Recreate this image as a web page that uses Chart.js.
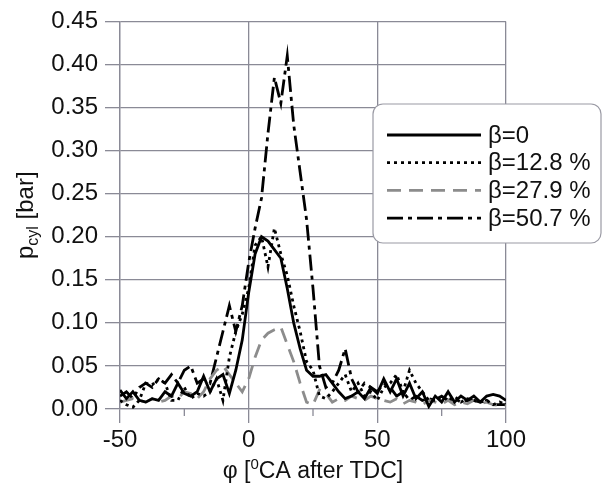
<!DOCTYPE html>
<html>
<head>
<meta charset="UTF-8">
<title>p_cyl vs crank angle</title>
<script src="https://cdn.jsdelivr.net/npm/chart.js@4"></script>
<style>
  body { margin: 0; background: #fff; }
</style>
</head>
<body>
<canvas id="chart" width="606" height="491"></canvas>
<script>
// crank angle [deg CA after TDC]
const phi = [
  -50, -47.5, -45, -42.5, -40, -37.5, -35, -32.5, -30, -27.5,
  -25, -22.5, -20, -17.5, -15, -12.5, -10, -7.5, -5, -2.5,
  0, 2.5, 5, 7.5, 10, 12.5, 15, 17.5, 20, 22.5,
  25, 27.5, 30, 32.5, 35, 37.5, 40, 42.5, 45, 47.5,
  50, 52.5, 55, 57.5, 60, 62.5, 65, 67.5, 70, 72.5,
  75, 77.5, 80, 82.5, 85, 87.5, 90, 92.5, 95, 97.5, 100
];

// p_cyl [bar] for each beta
const pBeta0 = [
  0.022, 0.012, 0.020, 0.010, 0.008, 0.012, 0.010, 0.020, 0.015, 0.030,
  0.018, 0.015, 0.020, 0.038, 0.020, 0.035, 0.040, 0.018, 0.045, 0.080,
  0.135, 0.180, 0.200, 0.195, 0.185, 0.175, 0.140, 0.100, 0.070, 0.045,
  0.038, 0.038, 0.040, 0.030, 0.020, 0.012, 0.015, 0.020, 0.012, 0.025,
  0.018, 0.035, 0.020, 0.035, 0.015, 0.030, 0.012, 0.020, 0.003, 0.015,
  0.008, 0.020, 0.008, 0.015, 0.010, 0.015, 0.008, 0.015, 0.017, 0.015, 0.010
];
const pBeta128 = [
  0.010, 0.005, 0.002, 0.010, 0.030, 0.028, 0.035, 0.030, 0.010, 0.010,
  0.025, 0.012, 0.018, 0.015, 0.020, 0.035, 0.010, 0.060, 0.090, 0.110,
  0.140, 0.190, 0.200, 0.165, 0.210, 0.180, 0.155, 0.120, 0.090, 0.055,
  0.045, 0.015, 0.012, 0.020, 0.030, 0.040, 0.020, 0.030, 0.015, 0.020,
  0.010, 0.025, 0.030, 0.040, 0.020, 0.045, 0.030, 0.020, 0.010, 0.010,
  0.015, 0.010, 0.015, 0.008, 0.012, 0.010, 0.008, 0.010, 0.005, 0.008, 0.005
];
const pBeta279 = [
  0.008, 0.010, 0.012, 0.010, 0.008, 0.012, 0.008, 0.010, 0.015, 0.012,
  0.020, 0.018, 0.012, 0.020, 0.035, 0.045, 0.050, 0.040, 0.030, 0.020,
  0.035, 0.060, 0.080, 0.088, 0.092, 0.095, 0.075, 0.055, 0.030, 0.008,
  0.005, 0.022, 0.018, 0.008, 0.012, 0.010, 0.015, 0.012, 0.010, 0.015,
  0.012, 0.010, 0.008, 0.012, 0.006, 0.010, 0.008, 0.005, 0.010, 0.008,
  0.006, 0.010, 0.005, 0.008, 0.006, 0.010, 0.006, 0.008, 0.005, 0.004, 0.004
];
const pBeta507 = [
  0.015, 0.020, 0.012, 0.025, 0.030, 0.025, 0.035, 0.030, 0.040, 0.030,
  0.045, 0.050, 0.030, 0.035, 0.030, 0.060, 0.090, 0.120, 0.090, 0.120,
  0.170, 0.210, 0.245, 0.320, 0.385, 0.355, 0.410, 0.330, 0.275, 0.220,
  0.140, 0.050, 0.025, 0.030, 0.045, 0.070, 0.035, 0.020, 0.030, 0.025,
  0.020, 0.030, 0.025, 0.015, 0.020, 0.010, 0.015, 0.010, 0.012, 0.010,
  0.015, 0.010, 0.012, 0.008, 0.010, 0.010, 0.008, 0.010, 0.005, 0.005, 0.005
];

const seriesLabels = ['β=0', 'β=12.8 %', 'β=27.9 %', 'β=50.7 %'];
const xMinorTicks = [-25, 25, 75];

const gridColor = '#8a8a96';
const fontFamily = '"Liberation Sans", Arial, sans-serif';

function toPoints(values) {
  return phi.map((x, i) => ({ x: x, y: values[i] }));
}

// draws text pieces of different sizes side by side, centred on cx
function drawPieces(ctx, pieces, cx, y) {
  let total = 0;
  pieces.forEach(p => { ctx.font = p[1] + 'px ' + fontFamily; total += ctx.measureText(p[0]).width; });
  let x = cx - total / 2;
  pieces.forEach(p => {
    ctx.font = p[1] + 'px ' + fontFamily;
    ctx.fillText(p[0], x, y + p[2]);
    x += ctx.measureText(p[0]).width;
  });
}

// legend box, axis titles and minor ticks drawn by hand
const extras = {
  id: 'extras',
  afterDraw(chart) {
    const ctx = chart.ctx;
    const xs = chart.scales.x;
    const area = chart.chartArea;
    ctx.save();

    // minor ticks on the x axis
    ctx.strokeStyle = gridColor;
    ctx.lineWidth = 1.3;
    xMinorTicks.forEach(v => {
      const px = xs.getPixelForValue(v);
      ctx.beginPath();
      ctx.moveTo(px, area.bottom);
      ctx.lineTo(px, area.bottom + 7);
      ctx.stroke();
    });

    // legend
    ctx.beginPath();
    ctx.roundRect(373, 104, 228, 139, 10);
    ctx.fillStyle = '#fff';
    ctx.fill();
    ctx.strokeStyle = '#9a9aa4';
    ctx.lineWidth = 1.2;
    ctx.stroke();
    chart.data.datasets.forEach((ds, i) => {
      const y = 135 + i * 27.7;
      ctx.beginPath();
      ctx.setLineDash(ds.borderDash || []);
      ctx.strokeStyle = ds.borderColor;
      ctx.lineWidth = ds.borderWidth;
      ctx.moveTo(387, y);
      ctx.lineTo(481, y);
      ctx.stroke();
      ctx.setLineDash([]);
      ctx.fillStyle = '#111';
      ctx.font = '24px ' + fontFamily;
      ctx.textBaseline = 'middle';
      ctx.textAlign = 'left';
      ctx.fillText(ds.label, 488, y + 1);
    });

    // x title
    ctx.fillStyle = '#111';
    ctx.textBaseline = 'alphabetic';
    drawPieces(ctx, [['φ [', 23, 0], ['0', 15, -9], ['CA after TDC]', 23, 0]],
      (area.left + area.right) / 2, 478);

    // y title, rotated
    ctx.translate(33, (area.top + area.bottom) / 2);
    ctx.rotate(-Math.PI / 2);
    drawPieces(ctx, [['p', 24, 0], ['cyl', 16, 5], [' [bar]', 24, 0]], 0, 0);
    ctx.restore();
  }
};

new Chart(document.getElementById('chart'), {
  type: 'line',
  data: {
    datasets: [
      { label: seriesLabels[0], data: toPoints(pBeta0), borderColor: '#000', borderWidth: 2.8, borderDash: [] },
      { label: seriesLabels[1], data: toPoints(pBeta128), borderColor: '#000', borderWidth: 2.8, borderDash: [3, 4] },
      { label: seriesLabels[2], data: toPoints(pBeta279), borderColor: '#8c8c8c', borderWidth: 2.8, borderDash: [14, 8] },
      { label: seriesLabels[3], data: toPoints(pBeta507), borderColor: '#000', borderWidth: 2.8, borderDash: [16, 5, 4, 5] }
    ]
  },
  options: {
    responsive: false,
    animation: false,
    devicePixelRatio: 1,
    layout: { padding: { left: 0, top: 19, right: 100, bottom: 0 } },
    elements: { point: { radius: 0 }, line: { tension: 0, fill: false } },
    plugins: { legend: { display: false }, tooltip: { enabled: false } },
    scales: {
      x: {
        type: 'linear',
        min: -50,
        max: 100,
        afterFit: s => { s.height = 82; },
        ticks: {
          stepSize: 25,
          autoSkip: false,
          maxRotation: 0,
          padding: 3,
          color: '#111',
          font: { family: fontFamily, size: 24 },
          callback: v => (v % 50 === 0 ? v : '')
        },
        grid: {
          color: c => (c.tick && c.tick.value % 50 === 0 ? gridColor : 'transparent'),
          tickColor: c => (c.tick && c.tick.value % 50 === 0 ? gridColor : 'transparent'),
          lineWidth: 1.3,
          tickLength: 14
        },
        border: { color: gridColor, width: 1.3 }
      },
      y: {
        min: 0,
        max: 0.45,
        afterFit: s => { s.width = 120; },
        ticks: {
          stepSize: 0.05,
          padding: 7,
          color: '#111',
          font: { family: fontFamily, size: 24 },
          callback: v => v.toFixed(2)
        },
        grid: { color: gridColor, lineWidth: 1.3, tickLength: 15 },
        border: { color: gridColor, width: 1.3 }
      }
    }
  },
  plugins: [extras]
});
</script>
</body>
</html>
